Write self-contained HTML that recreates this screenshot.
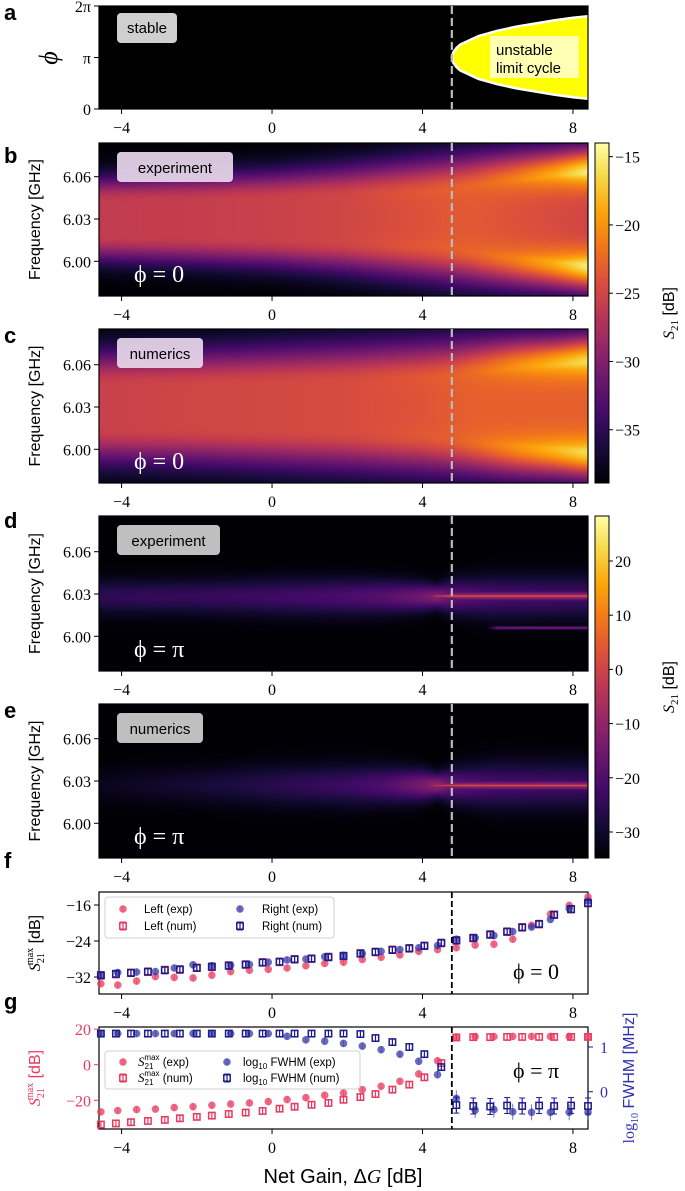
<!DOCTYPE html>
<html><head><meta charset="utf-8">
<style>
html,body{margin:0;padding:0;background:#fff;}
#wrap{position:relative;width:685px;height:1191px;overflow:hidden;}
canvas{position:absolute;}
svg{position:absolute;left:0;top:0;}
.tk{font-family:"Liberation Serif",serif;font-size:16px;}
.lb{font-family:"Liberation Sans",sans-serif;font-size:16px;}
.lt{font-family:"Liberation Sans",sans-serif;font-size:11.5px;}
.pl{font-family:"Liberation Sans",sans-serif;font-size:22px;font-weight:bold;}
</style></head>
<body>
<div id="wrap">
<canvas id="cb" width="489" height="153" style="left:99px;top:143px"></canvas>
<canvas id="cc" width="489" height="154" style="left:99px;top:329px"></canvas>
<canvas id="cd" width="489" height="155" style="left:99px;top:516px"></canvas>
<canvas id="ce" width="489" height="154" style="left:99px;top:704px"></canvas>
<svg id="sv" width="685" height="1191" fill="#000" xmlns="http://www.w3.org/2000/svg">
<defs>
<linearGradient id="inf" x1="0" y1="1" x2="0" y2="0">
<stop offset="0" stop-color="#000004"/><stop offset="0.1" stop-color="#160b39"/><stop offset="0.2" stop-color="#420a68"/><stop offset="0.3" stop-color="#6a176e"/><stop offset="0.4" stop-color="#932667"/><stop offset="0.5" stop-color="#bc3754"/><stop offset="0.6" stop-color="#dd513a"/><stop offset="0.7" stop-color="#f37819"/><stop offset="0.8" stop-color="#fca50a"/><stop offset="0.9" stop-color="#f6d746"/><stop offset="1" stop-color="#fcffa4"/>
</linearGradient>
</defs>
<g id="layer"></g>
</svg>
</div>
<script>
// ---------- data ----------
const bGains=[-4.6,-2,0,2,4,4.8,5.5,6.5,7.5,8.4];
const bCenter=[-26,-25.8,-25.5,-25,-24,-23.5,-23.5,-24,-24.5,-25];
const bLobe=[-26,-25.8,-25.5,-25,-23.5,-23,-22.5,-21,-18.5,-15];
const bSep=[0.012,0.013,0.014,0.016,0.018,0.02,0.023,0.027,0.03,0.032];
const bWidth=[0.018,0.019,0.02,0.022,0.025,0.025,0.024,0.022,0.02,0.019];
const cGains=[-4.6,-2,0,2,4,4.8,5.5,6.5,7.5,8.4];
const cCenter=[-25.5,-25,-24.8,-24.5,-23.8,-23.3,-23,-23,-23,-23];
const cLobe=[-25.5,-25,-24.8,-24.5,-23.5,-23,-22,-20,-18,-16];
const cSep=[0.015,0.015,0.016,0.017,0.019,0.021,0.024,0.027,0.029,0.031];
const cWidth=[0.025,0.026,0.027,0.028,0.028,0.027,0.025,0.023,0.021,0.02];
const dGains=[-4.6,-2,0,2,3,4,4.4,4.8,6,8.4];
const dBand=[-25,-24,-23,-21,-19,-15,-12,-18,-22,-23];
const dBandW=[0.012,0.012,0.013,0.013,0.012,0.01,0.008,0.012,0.015,0.015];
const dLine=[-99,-99,-99,-99,-99,-20,-2,4,4.5,4.5];
const dLine2=[-99,-99,-99,-99,-99,-99,-99,-99,-14,-13];
const eBand=[-32,-29,-26,-23,-20,-14,-10,-18,-22,-23];
const eBandW=[0.012,0.013,0.014,0.014,0.013,0.011,0.008,0.012,0.016,0.016];
const eLine=[-99,-99,-99,-99,-99,-20,-2,4,4.5,4.5];
const aGains=[4.78,4.82,4.9,5.0,5.5,6.0,6.5,7.0,7.5,8.0,8.4];
const aHalf=[0,0.1,0.18,0.25,0.42,0.52,0.6,0.66,0.72,0.77,0.8];
const expGains=[-4.55,-4.1,-3.6,-3.1,-2.6,-2.1,-1.6,-1.1,-0.6,-0.1,0.4,0.9,1.4,1.9,2.4,2.9,3.4,3.9,4.4,4.9,5.4,5.9,6.4,6.9,7.4,7.9,8.4];
const numGains=[-4.55,-4.15,-3.75,-3.3,-2.85,-2.45,-2.0,-1.6,-1.15,-0.7,-0.25,0.2,0.6,1.05,1.5,1.9,2.35,2.75,3.2,3.65,4.05,4.5,4.9,5.35,5.8,6.25,6.65,7.1,7.5,7.95,8.4];
const fLeftExp=[-33.5,-33.8,-32.9,-31.9,-32.1,-32.2,-31.6,-30.8,-30.5,-30.3,-30.0,-29.5,-29.0,-28.7,-28.1,-27.6,-27.1,-26.3,-25.9,-25.5,-24.9,-24.7,-23.6,-20.5,-18.0,-16.1,-14.2];
const fRightExp=[-31.6,-31.0,-30.9,-30.8,-30.0,-29.3,-29.5,-29.4,-29.2,-28.7,-28.2,-28.0,-27.5,-27.2,-26.8,-26.3,-25.9,-25.5,-25.0,-23.6,-23.3,-22.8,-21.9,-20.9,-19.2,-16.8,-15.1];
const fRightNum=[-31.6,-31.3,-31.1,-30.8,-30.5,-30.3,-30.0,-29.7,-29.5,-29.2,-28.8,-28.6,-28.1,-27.9,-27.6,-27.3,-26.8,-26.4,-26.0,-25.6,-25.1,-24.4,-23.9,-23.3,-22.6,-21.9,-21.0,-20.2,-18.2,-16.9,-15.6];
const fLeftNum=[-31.7,-31.4,-31.0,-30.9,-30.4,-30.4,-29.9,-29.8,-29.4,-29.3,-28.7,-28.7,-28.0,-28.0,-27.5,-27.4,-26.7,-26.5,-25.9,-25.7,-25.0,-24.5,-23.8,-23.4,-22.5,-22.0,-20.9,-20.3,-18.1,-17.0,-15.5];
const gS21Exp=[-26.5,-25.8,-25.2,-24.9,-24.1,-23.6,-22.8,-22.1,-21.5,-20.7,-19.6,-18.5,-17.2,-15.9,-14.0,-12.1,-9.3,-5.2,2.2,15.6,15.8,15.8,15.9,15.9,15.9,15.9,15.9];
const gS21Num=[-33.6,-33.0,-32.3,-31.6,-31.0,-30.1,-29.3,-28.6,-27.7,-26.9,-26.0,-24.7,-23.6,-22.5,-21.5,-19.7,-18.2,-16.5,-14.0,-11.2,-7.1,0.9,15.3,15.5,15.5,15.6,15.6,15.6,15.6,15.6,15.6];
const gFwhmExp=[1.30,1.30,1.30,1.30,1.30,1.30,1.30,1.30,1.30,1.30,1.24,1.16,1.13,1.08,1.02,0.94,0.84,0.68,0.38,-0.15,-0.41,-0.40,-0.45,-0.46,-0.46,-0.46,-0.46];
const gFwhmNum=[1.30,1.30,1.30,1.30,1.30,1.30,1.30,1.30,1.30,1.30,1.30,1.30,1.30,1.30,1.30,1.30,1.29,1.20,1.11,1.0,0.84,0.55,-0.30,-0.32,-0.33,-0.31,-0.32,-0.31,-0.32,-0.31,-0.32];
const xTicks=[-4,0,4,8];
const freqTicks=[6.00,6.03,6.06];
const cb1Ticks=[-15,-20,-25,-30,-35];
const cb2Ticks=[20,10,0,-10,-20,-30];
const fTicks=[-16,-24,-32];
const gLeftTicks=[20,0,-20];
const gRightTicks=[1,0];
const critGain=4.78;

// ---------- scales ----------
const X0=99,X1=588,GMIN=-4.6,GMAX=8.4;
const xs=g=>X0+(g-GMIN)/(GMAX-GMIN)*(X1-X0);
const fy=(f,c)=>c-(f-6.03)*1410;
const cb1y=v=>483-(v+38.9)/24.9*340;
const cb2y=v=>858-(v+34.8)/63.1*342;
const fyS=v=>905-(v+16)*4.5;
const gyL=v=>1064.7-v*1.78;
const gyR=v=>1091.7-v*44.7;

const NS="http://www.w3.org/2000/svg";
const L=document.getElementById('layer');
function mk(tag,attrs,parent){const e=document.createElementNS(NS,tag);for(const k in attrs)e.setAttribute(k,attrs[k]);
  if(tag==='text'&&attrs['font-size'])e.style.fontSize=attrs['font-size']+'px';
  (parent||L).appendChild(e);return e;}
function txt(s,x,y,cls,anchor,extra){const e=mk('text',Object.assign({x:x,y:y,class:cls,'text-anchor':anchor||'start'},extra||{}));e.textContent=s;return e;}

const stops=[[0,0,4],[22,11,57],[66,10,104],[106,23,110],[147,38,103],[188,55,84],[221,81,58],[243,120,25],[252,165,10],[246,215,70],[252,255,164]];
function cmap(t){t=Math.max(0,Math.min(1,t))*10;const i=Math.min(9,Math.floor(t)),f=t-i;const a=stops[i],b=stops[i+1];return [a[0]+(b[0]-a[0])*f,a[1]+(b[1]-a[1])*f,a[2]+(b[2]-a[2])*f];}
function interp(gs,vs,g){if(g<=gs[0])return vs[0];for(let i=1;i<gs.length;i++){if(g<=gs[i]){const f=(g-gs[i-1])/(gs[i]-gs[i-1]);return vs[i-1]+(vs[i]-vs[i-1])*f;}}return vs[vs.length-1];}

function drawPhi0(id,center6,gs,cen,lob,sep,wid){
  const cv=document.getElementById(id),ctx=cv.getContext('2d');const W=cv.width,H=cv.height;
  const im=ctx.createImageData(W,H);const top=parseFloat(cv.style.top);const F=-39;
  for(let x=0;x<W;x++){const g=GMIN+(x+0.5)/W*(GMAX-GMIN);
    const c=interp(gs,cen,g),Lb=interp(gs,lob,g),s=interp(gs,sep,g),w=interp(gs,wid,g);
    for(let y=0;y<H;y++){const f=6.03-(top+y+0.5-center6)/1410;const d=Math.abs(f-6.03);
      let v; if(d<=s){const r=d/s;v=c+(Lb-c)*Math.pow(r,3);} else {const r=(d-s)/w;v=F+(Lb-F)*Math.exp(-r*r);}
      const col=cmap((v+38.9)/24.9);const k=(y*W+x)*4;im.data[k]=col[0];im.data[k+1]=col[1];im.data[k+2]=col[2];im.data[k+3]=255;}}
  ctx.putImageData(im,0,0);
}
function drawPhiPi(id,center6,band,bandW,line,line2,lineF,bandF){
  const cv=document.getElementById(id),ctx=cv.getContext('2d');const W=cv.width,H=cv.height;
  const im=ctx.createImageData(W,H);const top=parseFloat(cv.style.top);const F=-34.8;
  for(let x=0;x<W;x++){const g=GMIN+(x+0.5)/W*(GMAX-GMIN);
    const b=interp(dGains,band,g),bw=interp(dGains,bandW,g),ln=interp(dGains,line,g),l2=line2?interp(dGains,line2,g):-99;
    for(let y=0;y<H;y++){const f=6.03-(top+y+0.5-center6)/1410;
      const db=(f-bandF)/bw;let v=F+(b-F)*Math.exp(-db*db);
      if(ln>-90){const dl=(f-lineF)/0.0011;v=Math.max(v,F+(ln-F)*Math.exp(-dl*dl));
        const dg=(f-lineF)/0.004;v=Math.max(v,F+(ln-8-F)*Math.exp(-dg*dg)*0.8);}
      if(l2>-90){const d2=(f-6.006)/0.0011;v=Math.max(v,F+(l2-F)*Math.exp(-d2*d2));}
      const col=cmap((v+34.8)/63.1);const k=(y*W+x)*4;im.data[k]=col[0];im.data[k+1]=col[1];im.data[k+2]=col[2];im.data[k+3]=255;}}
  ctx.putImageData(im,0,0);
}
drawPhi0('cb',219,bGains,bCenter,bLobe,bSep,bWidth);
drawPhi0('cc',407,cGains,cCenter,cLobe,cSep,cWidth);
drawPhiPi('cd',594,dBand,dBandW,dLine,dLine2,6.0285,6.028);
drawPhiPi('ce',781,eBand,eBandW,eLine,null,6.0268,6.027);

// ---------- panel a ----------
mk('rect',{x:X0,y:6,width:X1-X0,height:103,fill:'#000'});
(function(){
  const yc=57.5,sc=103/2; let top=[],bot=[];
  for(let i=0;i<aGains.length;i++){const x=xs(aGains[i]);top.push(x.toFixed(1)+','+(yc-aHalf[i]*sc).toFixed(1));bot.push(x.toFixed(1)+','+(yc+aHalf[i]*sc).toFixed(1));}
  const outline='M'+top.slice().reverse().join(' L')+' L'+bot.slice(1).join(' L');
  const p=mk('path',{d:outline+' Z',fill:'#ffff00',stroke:'none'});
  
  const b=mk('path',{d:outline,fill:'none',stroke:'#fff','stroke-width':2.5,'stroke-linejoin':'round'});
  
})();
mk('rect',{x:490,y:36,width:89,height:42,fill:'#ffffc8',opacity:0.9});
txt('unstable',496,55,'lb','start',{'font-size':'15'});
txt('limit cycle',496,73,'lb','start',{'font-size':'15'});
mk('rect',{x:117,y:13,width:60,height:30,rx:4,fill:'#cfcfcf'});
txt('stable',147,33,'lb','middle',{'font-size':'15'});

// ---------- frames, ticks ----------
const panels=[
 {n:'a',t:6,b:109},{n:'b',t:143,b:296,c:219},{n:'c',t:329,b:483,c:407},{n:'d',t:516,b:671,c:594},{n:'e',t:704,b:858,c:781},{n:'f',t:892,b:994},{n:'g',t:1027,b:1129}];
panels.forEach(p=>{
  const r=mk('rect',{x:X0,y:p.t,width:X1-X0,height:p.b-p.t,fill:'none',stroke:'#000','stroke-width':1.2});
  
  xTicks.forEach(v=>{const x=xs(v);mk('line',{x1:x,x2:x,y1:p.b,y2:p.b+5,stroke:'#000'});
    const t=txt(String(v).replace('-','\u2212'),x,p.b+24,'tk','middle');});
  if(p.c){freqTicks.forEach(v=>{const y=fy(v,p.c);mk('line',{x1:X0-5,x2:X0,y1:y,y2:y,stroke:'#000'});
    txt(v.toFixed(2),X0-8,y+6,'tk','end');});
    const yl=txt('Frequency [GHz]',0,0,'lb','middle',{transform:'translate(40,'+((p.t+p.b)/2)+') rotate(-90)'});}
  if(p.c||p.n=='a'){const dl=mk('line',{x1:xs(critGain),x2:xs(critGain),y1:p.t,y2:p.b,stroke:'#bbb','stroke-width':2.2,'stroke-dasharray':'8,4'});
    }
  const pl=txt(p.n,4,p.t+({a:14,b:20,c:14,d:12,e:14,f:-24,g:-18})[p.n],'pl');
});
[['2π',6],['π',57.5],['0',109]].forEach(a=>{mk('line',{x1:X0-5,x2:X0,y1:a[1],y2:a[1],stroke:'#000'});txt(a[0],X0-8,a[1]+6,'tk','end');});
txt('ϕ',50,65,'tk','middle',{'font-size':'26','font-style':'italic',transform:'rotate(-90 50 58)'});

[['experiment',143,116],['numerics',329,86],['experiment',516,103],['numerics',704,86]].forEach(a=>{
  mk('rect',{x:117,y:a[1]+9,width:a[2],height:30,rx:4,fill:a[1]<500?'#e8d8ec':'#cfcfcf',opacity:0.92});
  txt(a[0],117+a[2]/2,a[1]+30,'lb','middle',{'font-size':'15'});});
[[296,'ϕ = 0'],[483,'ϕ = 0'],[671,'ϕ = π'],[858,'ϕ = π']].forEach(a=>{
  const t=txt(a[1],134,a[0]-14,'tk','start',{'font-size':'24',fill:'#fff'});});

function colorbar(y0,y1,ticks,ys,name,cy){
  const r=mk('rect',{x:595,y:y0,width:14,height:y1-y0,fill:'url(#inf)',stroke:'#000','stroke-width':1});
  
  ticks.forEach(v=>{const y=ys(v);mk('line',{x1:609,x2:613,y1:y,y2:y,stroke:'#000'});txt(String(v).replace('-','\u2212'),615,y+6,'tk','start');});
  const t=mk('text',{x:0,y:0,class:'tk','text-anchor':'middle',transform:'translate(674,'+cy+') rotate(-90)'});
  t.innerHTML='<tspan font-style="italic">S</tspan><tspan font-size="11" dy="4">21</tspan><tspan dy="-4" font-family="Liberation Sans"> [dB]</tspan>';
  
}
colorbar(143,483,cb1Ticks,cb1y,'colorbar-phi0',313);
colorbar(516,858,cb2Ticks,cb2y,'colorbar-phipi',687);

// ---------- panel f ----------
fTicks.forEach(v=>{const y=fyS(v);mk('line',{x1:X0-5,x2:X0,y1:y,y2:y,stroke:'#000'});txt(String(v).replace('-','\u2212'),X0-8,y+6,'tk','end');});
(function(){const t=mk('text',{x:0,y:0,class:'tk','text-anchor':'middle',transform:'translate(40,943) rotate(-90)'});
 t.innerHTML='<tspan font-style="italic">S</tspan><tspan font-size="10" dy="4">21</tspan><tspan font-size="10" dy="-11" dx="-12">max</tspan><tspan dy="7" font-family="Liberation Sans"> [dB]</tspan>';})();
const PINK='#e8395f',NAVY='#1c1c8c',BLUE='#3a3aa8';
function circ(x,y,col,name){const c=mk('circle',{cx:x,cy:y,r:3.8,fill:col,opacity:0.75});
 mk('line',{x1:x,x2:x,y1:y-3.5,y2:y+3.5,stroke:col,opacity:0.6});}
function sq(x,y,col,name,err){mk('line',{x1:x,x2:x,y1:y-err,y2:y+err,stroke:col,'stroke-width':1.2});
 mk('line',{x1:x-3,x2:x+3,y1:y-err,y2:y-err,stroke:col});mk('line',{x1:x-3,x2:x+3,y1:y+err,y2:y+err,stroke:col});
 const r=mk('rect',{x:x-3.2,y:y-3.2,width:6.4,height:6.4,fill:'none',stroke:col,'stroke-width':1.5});}
expGains.forEach((g,i)=>circ(xs(g),fyS(fLeftExp[i]),PINK,'point-left-exp'));
numGains.forEach((g,i)=>sq(xs(g),fyS(fLeftNum[i]),PINK,'point-left-num',3.5));
expGains.forEach((g,i)=>circ(xs(g),fyS(fRightExp[i]),BLUE,'point-right-exp'));
numGains.forEach((g,i)=>sq(xs(g),fyS(fRightNum[i]),NAVY,'point-right-num',3.5));
mk('line',{x1:xs(critGain),x2:xs(critGain),y1:892,y2:994,stroke:'#000','stroke-width':1.8,'stroke-dasharray':'6,3'});
txt('ϕ = 0',513,979,'tk','start',{'font-size':'22'});
mk('rect',{x:105,y:897,width:229,height:41,rx:3,fill:'#fff',stroke:'#ccc',opacity:0.9});
circ(123,909,PINK,'legend-marker');sq(123,926,PINK,'legend-marker',4);circ(240,909,BLUE,'legend-marker');sq(240,926,NAVY,'legend-marker',4);
txt('Left (exp)',144,913,'lt');
txt('Left (num)',144,930,'lt');
txt('Right (exp)',262,913,'lt');
txt('Right (num)',262,930,'lt');

// ---------- panel g ----------
gLeftTicks.forEach(v=>{const y=gyL(v);mk('line',{x1:X0-5,x2:X0,y1:y,y2:y,stroke:PINK});txt(String(v).replace('-','\u2212'),X0-8,y+6,'tk','end',{fill:PINK});});
gRightTicks.forEach(v=>{const y=gyR(v);mk('line',{x1:X1,x2:X1+5,y1:y,y2:y,stroke:NAVY});txt(String(v),X1+12,y+6,'tk','start',{fill:'#3030b0'});});
(function(){const t=mk('text',{x:0,y:0,class:'tk','text-anchor':'middle',fill:PINK,transform:'translate(40,1078) rotate(-90)'});
 t.innerHTML='<tspan font-style="italic">S</tspan><tspan font-size="10" dy="4">21</tspan><tspan font-size="10" dy="-11" dx="-12">max</tspan><tspan dy="7" font-family="Liberation Sans"> [dB]</tspan>';
 const r=mk('text',{x:0,y:0,class:'tk','text-anchor':'middle',fill:'#3030b0',transform:'translate(634,1078) rotate(-90)'});
 r.innerHTML='log<tspan font-size="10" dy="4">10</tspan><tspan dy="-4" font-family="Liberation Sans"> FWHM [MHz]</tspan>';})();
expGains.forEach((g,i)=>circ(xs(g),gyL(gS21Exp[i]),PINK,'point-s21-exp'));
numGains.forEach((g,i)=>sq(xs(g),gyL(gS21Num[i]),PINK,'point-s21-num',3));
expGains.forEach((g,i)=>{circ(xs(g),gyR(gFwhmExp[i]),BLUE,'point-fwhm-exp');if(g>critGain)mk('line',{x1:xs(g),x2:xs(g),y1:gyR(gFwhmExp[i])-8,y2:gyR(gFwhmExp[i])+8,stroke:BLUE,opacity:0.7});});
numGains.forEach((g,i)=>sq(xs(g),gyR(gFwhmNum[i]),NAVY,'point-fwhm-num',g>critGain?8:3));
mk('line',{x1:xs(critGain),x2:xs(critGain),y1:1027,y2:1129,stroke:'#000','stroke-width':1.8,'stroke-dasharray':'6,3'});
txt('ϕ = π',513,1078,'tk','start',{'font-size':'22'});
mk('rect',{x:105,y:1051,width:255,height:38,rx:3,fill:'#fff',stroke:'#ccc',opacity:0.9});
circ(123,1062,PINK,'legend-marker');sq(123,1078,PINK,'legend-marker',4);circ(227,1062,BLUE,'legend-marker');sq(227,1078,NAVY,'legend-marker',4);
(function(){const a=[['exp',1066],['num',1082]];a.forEach(q=>{const t=mk('text',{x:138,y:q[1],class:'lt'});
 t.innerHTML='<tspan font-family="Liberation Serif" font-style="italic" font-size="13">S</tspan><tspan font-size="8" dy="3">21</tspan><tspan font-size="8" dy="-9" dx="-9">max</tspan><tspan dy="6"> ('+q[0]+')</tspan>';
 const u=mk('text',{x:243,y:q[1],class:'lt'});u.innerHTML='log<tspan font-size="8" dy="3">10</tspan><tspan dy="-3"> FWHM ('+q[0]+')</tspan>';});})();

(function(){const t=mk('text',{x:343,y:1183,class:'lb','text-anchor':'middle','font-size':'20'});
 t.innerHTML='Net Gain, Δ<tspan font-family="Liberation Serif" font-style="italic">G</tspan> [dB]';})();
</script>
</body></html>
